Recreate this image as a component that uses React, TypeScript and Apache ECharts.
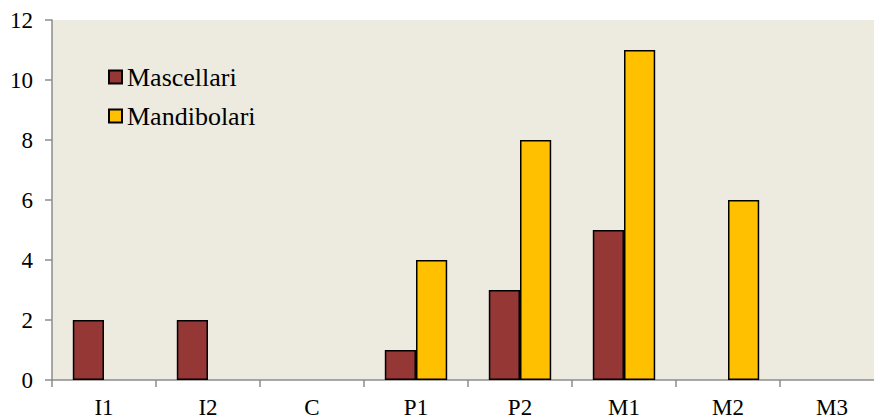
import React, { useEffect, useRef } from "react";
import * as echarts from "echarts";

const categories = ["I1", "I2", "C", "P1", "P2", "M1", "M2", "M3"];
const mascellari = [2, 2, 0, 1, 3, 5, 0, 0];
const mandibolari = [0, 0, 0, 4, 8, 11, 6, 0];
const yTicks = { min: 0, max: 12, interval: 2 };

export default function App() {
  const ref = useRef<HTMLDivElement>(null);
  useEffect(() => {
    const chart = echarts.init(ref.current!, null, { renderer: "svg" });
    const font = "'Liberation Serif', 'Times New Roman', serif";
    const toData = (arr: number[]) => arr.map((v) => (v === 0 ? null : v));
    chart.setOption({
      animation: false,
      backgroundColor: "#ffffff",
      grid: {
        left: 52,
        top: 20,
        bottom: 39,
        right: -10,
        containLabel: false,
        outerBoundsMode: "none",
        show: true,
        backgroundColor: "#EDEBE0",
        borderWidth: 0,
      },
      legend: {
        orient: "vertical",
        left: 108,
        top: 64,
        padding: 0,
        itemWidth: 13,
        itemHeight: 13,
        itemGap: 13,
        icon: "rect",
        textStyle: { fontFamily: font, fontSize: 26, color: "#000", lineHeight: 26 },
        data: ["Mascellari", "Mandibolari"],
      },
      xAxis: {
        type: "category",
        data: categories,
        axisLine: { show: true, lineStyle: { color: "#8C8C8C", width: 1.5 } },
        axisTick: { show: true, length: 7, lineStyle: { color: "#8C8C8C", width: 1.5 } },
        axisLabel: { fontFamily: font, fontSize: 23, color: "#000", margin: 16 },
        splitLine: { show: false },
      },
      yAxis: {
        type: "value",
        min: yTicks.min,
        max: yTicks.max,
        interval: yTicks.interval,
        axisLine: { show: true, lineStyle: { color: "#8C8C8C", width: 1.5 } },
        axisTick: { show: true, length: 7, lineStyle: { color: "#8C8C8C", width: 1.5 } },
        axisLabel: { fontFamily: font, fontSize: 23, color: "#000", margin: 19 },
        splitLine: { show: false },
      },
      series: [
        {
          name: "Mascellari",
          type: "bar",
          data: toData(mascellari),
          barGap: "0%",
          barCategoryGap: "40%",
          itemStyle: { color: "#953735", borderColor: "#000", borderWidth: 1.5 },
        },
        {
          name: "Mandibolari",
          type: "bar",
          data: toData(mandibolari),
          barGap: "0%",
          barCategoryGap: "40%",
          itemStyle: { color: "#FFC000", borderColor: "#000", borderWidth: 1.5 },
        },
      ],
    });
    return () => chart.dispose();
  }, []);
  return (
    <div
      ref={ref}
      style={{ position: "absolute", left: 0, top: 0, width: 874, height: 419 }}
    />
  );
}
